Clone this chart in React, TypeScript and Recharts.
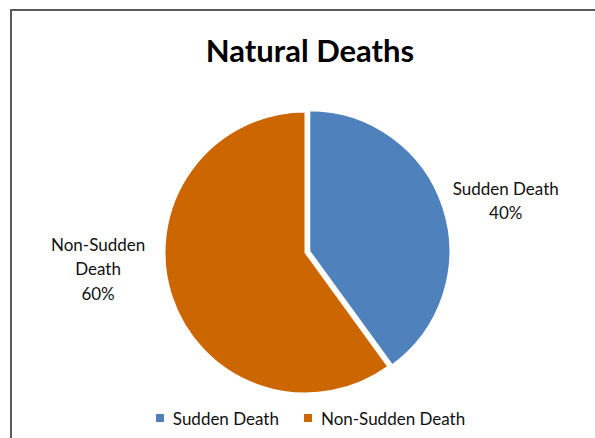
import React from 'react';
import { PieChart, Pie, Cell, Legend } from 'recharts';

const categories = ['Sudden Death', 'Non-Sudden Death'];
const values = [40, 60];
const colors = ['#4F81BD', '#CC6600'];
const labelNameLines = [['Sudden Death'], ['Non-Sudden', 'Death']];
const title = 'Natural Deaths';

const W = 595;
const H = 438;
const CX = 305.5;
const CY = 252.5;
const R = 141;
const EXPLODE = [4, 0];
// label placement: angle offset from slice mid-angle (deg) and distance from centre
const LABEL_PLACE = [
  { dAngle: -3.3, dist: 207 },
  { dAngle: -13.7, dist: 208 },
];
const FONT = 'Lato, "Open Sans", sans-serif';
const LINE_H = 24.5;

const total = values.reduce((a, b) => a + b, 0);
const slices = (() => {
  let cum = 0;
  return values.map((v, i) => {
    const start = 90 - (360 * cum) / total;
    const end = start - (360 * v) / total;
    cum += v;
    const mid = (start + end) / 2;
    const rad = (mid * Math.PI) / 180;
    return {
      i,
      name: categories[i],
      value: v,
      start,
      end,
      cx: CX + EXPLODE[i] * Math.cos(rad),
      cy: CY - EXPLODE[i] * Math.sin(rad),
      pct: Math.round((v / total) * 100) + '%',
    };
  });
})();

const makeLabel = (idx: number) => (props: any) => {
  const s = slices[idx];
  const mid = (s.start + s.end) / 2 + LABEL_PLACE[idx].dAngle;
  const rad = (mid * Math.PI) / 180;
  const x = CX + LABEL_PLACE[idx].dist * Math.cos(rad);
  const y = CY - LABEL_PLACE[idx].dist * Math.sin(rad);
  const lines = [...labelNameLines[idx], s.pct];
  const y0 = y - ((lines.length - 1) * LINE_H) / 2;
  return (
    <text
      key={'lbl' + idx}
      x={x}
      y={y0}
      textAnchor="middle"
      dominantBaseline="central"
      fontFamily={FONT}
      fontSize={17}
      fill="#111"
    >
      {lines.map((t, k) => (
        <tspan key={k} x={x} y={y0 + k * LINE_H} dominantBaseline="central">
          {t}
        </tspan>
      ))}
    </text>
  );
};

const LegendContent = () => (
  <div
    style={{
      display: 'flex',
      justifyContent: 'center',
      alignItems: 'center',
      fontFamily: FONT,
      fontSize: 17,
      color: '#111',
      gap: 25,
      height: 26,
    }}
  >
    {categories.map((c, i) => (
      <div key={c} style={{ display: 'flex', alignItems: 'center' }}>
        <span
          style={{
            display: 'inline-block',
            width: 8,
            height: 8,
            background: colors[i],
            marginRight: 9,
          }}
        />
        <span>{c}</span>
      </div>
    ))}
  </div>
);

export default function App() {
  return (
    <div
      style={{
        position: 'absolute',
        left: 0,
        top: 0,
        width: W,
        height: H,
        background: '#fff',
        overflow: 'hidden',
      }}
    >
      <div
        style={{
          position: 'absolute',
          left: 10,
          top: 9,
          width: W,
          height: H,
          borderLeft: '2px solid #5a5a5a',
          borderTop: '2px solid #5a5a5a',
        }}
      />
      <svg
        width={W}
        height={80}
        style={{ position: 'absolute', left: 0, top: 0 }}
      >
        <text
          x={310}
          y={62}
          textAnchor="middle"
          fontFamily={FONT}
          fontWeight="bold"
          fontSize={31}
          fill="#000"
        >
          {title}
        </text>
      </svg>
      <div style={{ position: 'absolute', left: 0, top: 0 }}>
        <PieChart width={W} height={H} margin={{ top: 0, right: 0, bottom: 0, left: 0 }}>
          {slices.map((s) => (
            <Pie
              key={s.name}
              data={[{ name: s.name, value: s.value }]}
              dataKey="value"
              nameKey="name"
              cx={s.cx}
              cy={s.cy}
              outerRadius={R}
              startAngle={s.start}
              endAngle={s.end}
              stroke="#fff"
              strokeWidth={2}
              isAnimationActive={false}
              label={makeLabel(s.i)}
              labelLine={false}
            >
              <Cell fill={colors[s.i]} />
            </Pie>
          ))}
          <Legend
            content={LegendContent}
            wrapperStyle={{ position: 'absolute', left: 13, top: 405, width: W, height: 26 }}
          />
        </PieChart>
      </div>
    </div>
  );
}
